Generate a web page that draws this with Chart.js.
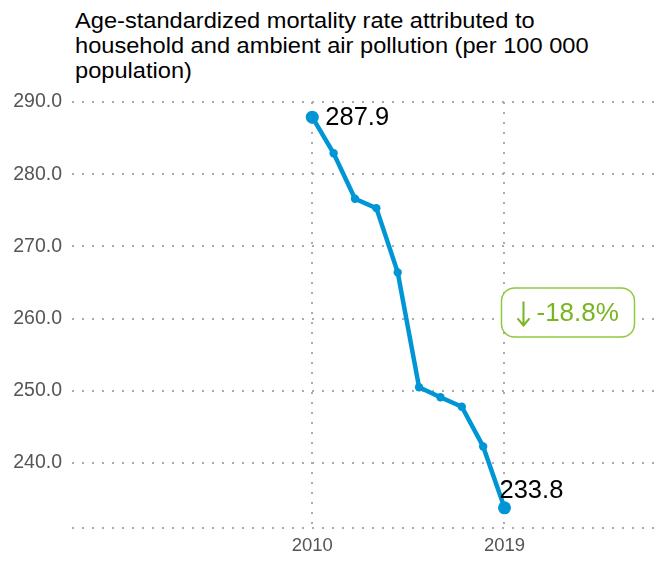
<!DOCTYPE html>
<html>
<head>
<meta charset="utf-8">
<script src="https://cdn.jsdelivr.net/npm/chart.js@4.4.1/dist/chart.umd.min.js"></script>
<style>
    html, body { margin: 0; padding: 0; background: #fff; }
    #wrap { position: relative; width: 654px; height: 565px; }
    #title {
        position: absolute; left: 75px; top: 8px; white-space: nowrap;
        font-family: "Liberation Sans", Arial, sans-serif; font-size: 22.5px;
        line-height: 25px; color: #000;
        transform: scaleX(1.05); transform-origin: left top;
    }
    canvas { position: absolute; left: 0; top: 0; }
</style>
</head>
<body>
<div id="wrap">
    <div id="title">Age-standardized mortality rate attributed to<br>household and ambient air pollution (per 100 000<br>population)</div>
    <canvas id="graph" width="654" height="565"></canvas>
</div>
<script>
"use strict"

// dati
const years = [2010, 2011, 2012, 2013, 2014, 2015, 2016, 2017, 2018, 2019];
const rates = [287.9, 282.9, 276.6, 275.3, 266.4, 250.5, 249.1, 247.8, 242.3, 233.8];
const xTickYears = [2010, 2019];
const yTickValues = [240, 250, 260, 270, 280, 290];
const yMin = 231, yMax = 290;
const xMin = 1998.75, xMax = 2026;

const blue = "#0096d6";
const green = "#78b51e";
const gridColor = "#ababab";
const font = "'Liberation Sans', Arial, sans-serif";

let first = rates[0], last = rates[rates.length - 1];
let change = (last - first) / first * 100;

// etichette dei valori + riquadro variazione
const labelsPlugin = {
    id: "labels",
    afterDatasetsDraw: function (chart) {
        let ctx = chart.ctx;
        let meta = chart.getDatasetMeta(0);
        let p0 = meta.data[0], p1 = meta.data[meta.data.length - 1];

        ctx.save();
        ctx.fillStyle = "#000";
        ctx.font = "25.5px " + font;
        ctx.textBaseline = "middle";
        ctx.textAlign = "left";
        ctx.fillText(first.toFixed(1), p0.x + 13, p0.y + 1);
        ctx.textBaseline = "alphabetic";
        ctx.fillText(last.toFixed(1), p1.x - 5, p1.y - 10);

        // riquadro
        let xs = chart.scales.x, ys = chart.scales.y;
        let bx = xs.getPixelForValue(years[years.length - 1]) - 3;
        let by = ys.getPixelForValue((first + last) / 2);
        let w = 133, h = 49, r = 13;
        ctx.beginPath();
        ctx.roundRect(bx, by - h / 2, w, h, r);
        ctx.fillStyle = "#fff";
        ctx.fill();
        ctx.lineWidth = 1.5;
        ctx.strokeStyle = "#92c83e";
        ctx.stroke();

        // freccia
        let ax = bx + 22;
        ctx.strokeStyle = green;
        ctx.lineWidth = 2;
        ctx.beginPath();
        ctx.moveTo(ax, by - 11);
        ctx.lineTo(ax, by + 13);
        ctx.moveTo(ax - 6, by + 6);
        ctx.lineTo(ax, by + 13);
        ctx.lineTo(ax + 6, by + 6);
        ctx.stroke();

        ctx.fillStyle = green;
        ctx.textAlign = "left";
        ctx.textBaseline = "middle";
        ctx.font = "26px " + font;
        ctx.fillText(change.toFixed(1) + "%", bx + 35, by + 1);
        ctx.restore();
    }
};

let radii = rates.map(function (v, i) { return (i == 0 || i == rates.length - 1) ? 6.5 : 4.2; });

let chart = new Chart(document.getElementById("graph"), {
    type: "line",
    data: {
        datasets: [
            {
                data: years.map(function (y, i) { return { x: y, y: rates[i] }; }),
                borderColor: blue,
                backgroundColor: blue,
                borderWidth: 4.5,
                pointRadius: radii,
                pointHoverRadius: radii,
                pointBorderWidth: 0,
                tension: 0
            }
        ]
    },
    options: {
        responsive: false,
        animation: false,
        layout: { autoPadding: false, padding: { top: 102, left: 0, right: 0, bottom: 0 } },
        plugins: {
            legend: { display: false },
            tooltip: { enabled: false }
        },
        scales: {
            x: {
                type: "linear",
                min: xMin,
                max: xMax,
                afterBuildTicks: function (axis) {
                    axis.ticks = xTickYears.map(function (v) { return { value: v }; });
                },
                afterFit: function (axis) {
                    axis.height = 37;
                    axis.paddingLeft = 0;
                    axis.paddingRight = 0;
                },
                ticks: {
                    color: "#555",
                    font: { family: font, size: 18.5 },
                    padding: 7,
                    callback: function (v) { return String(v); }
                },
                grid: { color: gridColor, lineWidth: 2, drawTicks: false },
                border: { display: false, dash: [2, 8] }
            },
            y: {
                min: yMin,
                max: yMax,
                afterBuildTicks: function (axis) {
                    axis.ticks = [{ value: yMin }].concat(yTickValues.map(function (v) { return { value: v }; }));
                },
                afterFit: function (axis) {
                    axis.width = 72;
                    axis.paddingTop = 0;
                    axis.paddingBottom = 0;
                },
                ticks: {
                    color: "#555",
                    font: { family: font, size: 19.5 },
                    padding: 10,
                    callback: function (v) { return yTickValues.indexOf(v) >= 0 ? v.toFixed(1) : ""; }
                },
                grid: { color: gridColor, lineWidth: 2, drawTicks: false },
                border: { display: false, dash: [2, 8] }
            }
        }
    },
    plugins: [labelsPlugin]
});
</script>
</body>
</html>
